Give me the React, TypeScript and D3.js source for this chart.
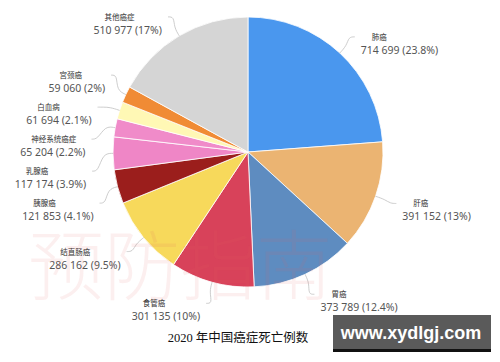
import { useEffect, useRef } from "react";
import * as d3 from "d3";

const causes = [
  "肺癌",
  "肝癌",
  "胃癌",
  "食管癌",
  "结直肠癌",
  "胰腺癌",
  "乳腺癌",
  "神经系统癌症",
  "白血病",
  "宫颈癌",
  "其他癌症",
];
const deaths = [
  714699, 391152, 373789, 301135, 286162, 121853, 117174, 65204, 61694, 59060,
  510977,
];
const sliceColors = [
  "#4a97ee",
  "#ebb472",
  "#5e8cc0",
  "#d8425a",
  "#f7d95b",
  "#9b1e1c",
  "#ef86c6",
  "#f08bc9",
  "#fff8b5",
  "#f08b35",
  "#d5d5d5",
];

const W = 500;
const H = 362;
const CX = 248;
const CY = 152;
const RADIUS = 135;

const locale = d3.formatLocale({
  decimal: ".",
  thousands: " ",
  grouping: [3],
  currency: ["", ""],
});
const fmtCount = locale.format(",");

function fmtPct(p: number) {
  const s = (p * 100).toFixed(1);
  return (s.endsWith(".0") ? s.slice(0, -2) : s) + "%";
}

export default function App() {
  const svgRef = useRef<SVGSVGElement | null>(null);

  useEffect(() => {
    if (!svgRef.current) return;
    const svg = d3.select(svgRef.current);
    svg.selectAll("*").remove();

    const total = d3.sum(deaths);
    const pie = d3
      .pie<number>()
      .sort(null)
      .value((d) => d)(deaths);
    const arc = d3
      .arc<d3.PieArcDatum<number>>()
      .innerRadius(0)
      .outerRadius(RADIUS);

    const pieG = svg.append("g").attr("transform", `translate(${CX},${CY})`);
    pieG
      .selectAll("path")
      .data(pie)
      .join("path")
      .attr("d", (d) => arc(d) as string)
      .attr("fill", (d, i) => sliceColors[i])
      .attr("stroke", "#fff")
      .attr("stroke-opacity", 0.8)
      .attr("stroke-width", 1);

    // label layout: place on a circle, then spread apart per side
    const R = RADIUS + 22;
    const items = pie.map((p, i) => {
      const a = (p.startAngle + p.endAngle) / 2;
      return {
        i,
        a,
        side: Math.sin(a) >= 0 ? 1 : -1,
        y: CY - R * Math.cos(a),
        x: 0,
      };
    });
    const gap = 32;
    [1, -1].forEach((side) => {
      const grp = items.filter((d) => d.side === side).sort((a, b) => a.y - b.y);
      for (let k = 0; k < 80; k++) {
        for (let j = 0; j < grp.length - 1; j++) {
          const diff = grp[j + 1].y - grp[j].y;
          if (diff < gap) {
            const s = gap - diff;
            // labels tend to spill downward a bit more than upward
            grp[j].y -= s * 0.35;
            grp[j + 1].y += s * 0.65;
          }
        }
      }
    });
    items.forEach((d) => {
      const dy = d.y - CY;
      d.x = CX + d.side * Math.sqrt(Math.max(R * R - dy * dy, 0));
    });

    const line = d3.line().curve(d3.curveBasis);
    const labels = svg.append("g");
    items.forEach((d) => {
      const p0: [number, number] = [
        CX + RADIUS * Math.sin(d.a),
        CY - RADIUS * Math.cos(d.a),
      ];
      const p1: [number, number] = [
        CX + (RADIUS + 10) * Math.sin(d.a),
        CY - (RADIUS + 10) * Math.cos(d.a),
      ];
      const p2: [number, number] = [d.x - d.side * 6, d.y];
      const p3: [number, number] = [d.x, d.y];
      labels
        .append("path")
        .attr("d", line([p0, p1, p2, p3]) as string)
        .attr("fill", "none")
        .attr("stroke", "#c0c0c0")
        .attr("stroke-width", 0.8);

      const tx = d.x + d.side * 6;
      const val = labels
        .append("text")
        .attr("x", tx)
        .attr("y", d.y + 17)
        .attr("text-anchor", d.side > 0 ? "start" : "end")
        .attr("font-family", "'Noto Sans', 'Open Sans', sans-serif")
        .attr("font-size", 10.5)
        .attr("fill", "#555")
        .text(`${fmtCount(deaths[d.i])} (${fmtPct(deaths[d.i] / total)})`);
      const w = (val.node() as SVGTextElement).getComputedTextLength();
      const left = d.side > 0 ? tx : tx - w;
      labels
        .append("text")
        .attr("x", left + 11)
        .attr("y", d.y + 3)
        .attr("font-family", "'Noto Sans CJK SC', sans-serif")
        .attr("font-size", 7.5)
        .attr("fill", "#333")
        .text(causes[d.i]);
    });

    // watermark
    svg
      .append("text")
      .attr("x", 180)
      .attr("y", 294)
      .attr("text-anchor", "middle")
      .attr("font-family", "'Noto Sans CJK SC', serif")
      .attr("font-weight", 300)
      .attr("font-size", 76)
      .attr("fill", "#e06060")
      .attr("fill-opacity", 0.1)
      .text("预防指南");

    // title
    svg
      .append("text")
      .attr("x", 238)
      .attr("y", 342)
      .attr("text-anchor", "middle")
      .attr("font-family", "'Liberation Serif', 'Noto Sans CJK SC', serif")
      .attr("font-size", 12.5)
      .attr("fill", "#111")
      .text("2020 年中国癌症死亡例数");

    // site badge
    svg
      .append("rect")
      .attr("x", 333)
      .attr("y", 346)
      .attr("width", 158)
      .attr("height", 6)
      .attr("fill", "#111");
    svg
      .append("rect")
      .attr("x", 333)
      .attr("y", 315)
      .attr("width", 158)
      .attr("height", 34)
      .attr("fill", "#5a5a5a");
    svg
      .append("text")
      .attr("x", 411)
      .attr("y", 339)
      .attr("text-anchor", "middle")
      .attr("font-family", "'Liberation Sans', Arial, sans-serif")
      .attr("font-weight", 700)
      .attr("font-size", 18)
      .attr("fill", "#fff")
      .text("www.xydlgj.com");
  }, []);

  return (
    <svg
      ref={svgRef}
      width={W}
      height={H}
      style={{ position: "absolute", left: 0, top: 0, background: "#fff" }}
    />
  );
}
